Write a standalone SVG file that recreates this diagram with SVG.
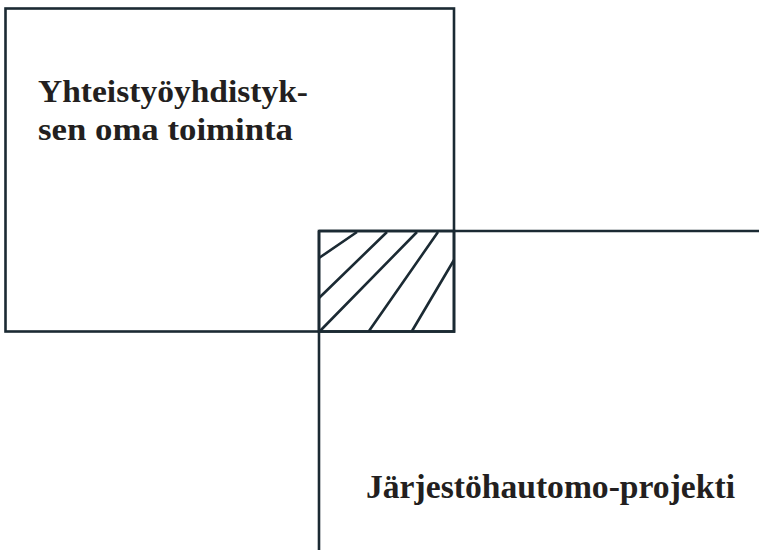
<svg xmlns="http://www.w3.org/2000/svg" width="759" height="553" viewBox="0 0 759 553">
<style>
.ln{fill:none;stroke:#1b2a33;stroke-width:2.6;stroke-linecap:butt}
.t{font-family:"Liberation Serif","Times New Roman",serif;font-weight:bold;fill:#231f20}
</style>
<rect x="0" y="0" width="759" height="553" fill="#ffffff"/>
<g id="yhdistys">
<rect class="ln" x="5.5" y="8.5" width="448.5" height="323"/>
<text class="t" x="38" y="102" font-size="32" textLength="270" lengthAdjust="spacingAndGlyphs">Yhteistyöyhdistyk-</text>
<text class="t" x="38" y="140" font-size="32" textLength="255" lengthAdjust="spacingAndGlyphs">sen oma toiminta</text>
</g>
<g id="hatch">
<rect class="ln" x="319" y="231" width="135" height="100.5"/>
<path class="ln" d="M319,258 L357,232 M319,298 L387,232 M320,331 L417,232 M369,331 L438,232 M412,331 L454,260"/>
</g>
<g id="projekti">
<path class="ln" d="M319,231 L759,231 M319,231 L319,550"/>
<text class="t" x="366" y="498" font-size="33" textLength="369" lengthAdjust="spacingAndGlyphs">Järjestöhautomo-projekti</text>
</g>
</svg>
